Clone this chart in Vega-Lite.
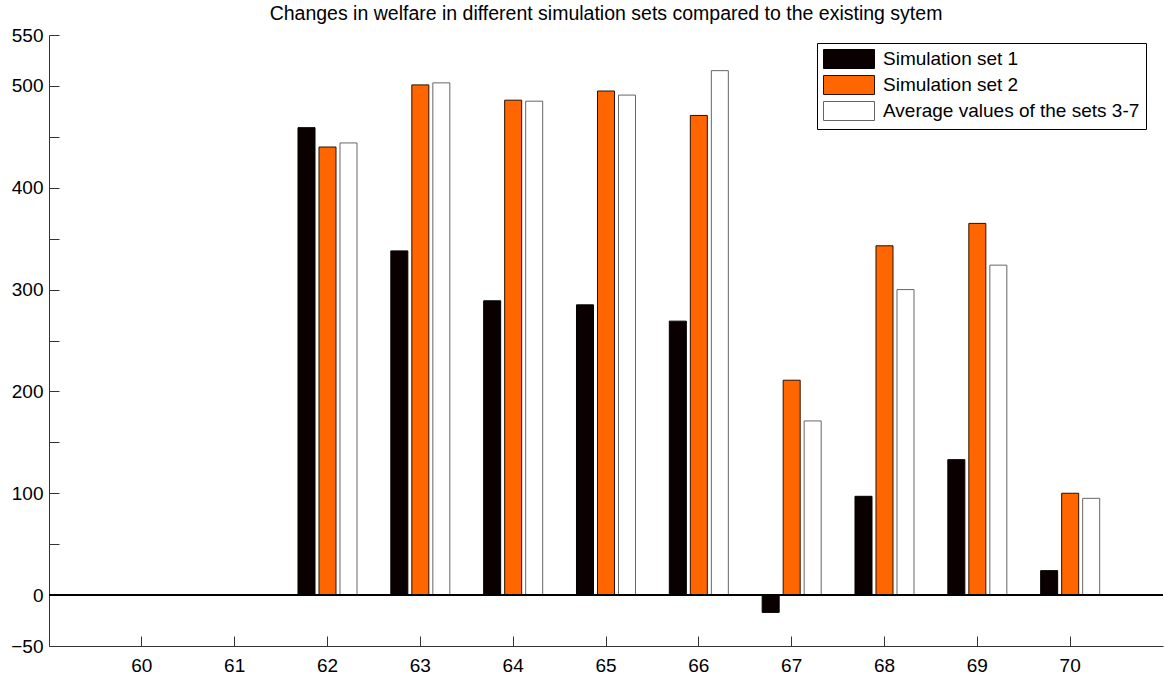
{
  "$schema": "https://vega.github.io/schema/vega-lite/v6.json",
  "width": 1114,
  "height": 611,
  "autosize": "none",
  "padding": {"left": 49, "top": 35, "right": 1, "bottom": 29},
  "background": "white",
  "config": {"view": {"stroke": null}, "font": "Liberation Sans"},
  "title": {"text": "Changes in welfare in different simulation sets compared to the existing sytem", "fontSize": 19.5, "fontWeight": "normal", "font": "Liberation Sans", "color": "black", "offset": 2},
  "data": {"values": [
    {"year": 60, "series": "Simulation set 1", "value": 0},
    {"year": 60, "series": "Simulation set 2", "value": 0},
    {"year": 60, "series": "Average values of the sets 3-7", "value": 0},
    {"year": 61, "series": "Simulation set 1", "value": 0},
    {"year": 61, "series": "Simulation set 2", "value": 0},
    {"year": 61, "series": "Average values of the sets 3-7", "value": 0},
    {"year": 62, "series": "Simulation set 1", "value": 459},
    {"year": 62, "series": "Simulation set 2", "value": 440},
    {"year": 62, "series": "Average values of the sets 3-7", "value": 444},
    {"year": 63, "series": "Simulation set 1", "value": 338},
    {"year": 63, "series": "Simulation set 2", "value": 501},
    {"year": 63, "series": "Average values of the sets 3-7", "value": 503},
    {"year": 64, "series": "Simulation set 1", "value": 289},
    {"year": 64, "series": "Simulation set 2", "value": 486},
    {"year": 64, "series": "Average values of the sets 3-7", "value": 485},
    {"year": 65, "series": "Simulation set 1", "value": 285},
    {"year": 65, "series": "Simulation set 2", "value": 495},
    {"year": 65, "series": "Average values of the sets 3-7", "value": 491},
    {"year": 66, "series": "Simulation set 1", "value": 269},
    {"year": 66, "series": "Simulation set 2", "value": 471},
    {"year": 66, "series": "Average values of the sets 3-7", "value": 515},
    {"year": 67, "series": "Simulation set 1", "value": -17},
    {"year": 67, "series": "Simulation set 2", "value": 211},
    {"year": 67, "series": "Average values of the sets 3-7", "value": 171},
    {"year": 68, "series": "Simulation set 1", "value": 97},
    {"year": 68, "series": "Simulation set 2", "value": 343},
    {"year": 68, "series": "Average values of the sets 3-7", "value": 300},
    {"year": 69, "series": "Simulation set 1", "value": 133},
    {"year": 69, "series": "Simulation set 2", "value": 365},
    {"year": 69, "series": "Average values of the sets 3-7", "value": 324},
    {"year": 70, "series": "Simulation set 1", "value": 24},
    {"year": 70, "series": "Simulation set 2", "value": 100},
    {"year": 70, "series": "Average values of the sets 3-7", "value": 95}
  ]},
  "layer": [
    {
      "mark": {"type": "bar", "strokeWidth": 1},
      "encoding": {
        "x": {"field": "year", "type": "ordinal",
          "scale": {"domain": [60, 61, 62, 63, 64, 65, 66, 67, 68, 69, 70], "paddingInner": 0, "paddingOuter": 0.5},
          "axis": {"title": null, "labelAngle": 0, "tickSize": -10, "labelFontSize": 19, "labelFont": "Liberation Sans", "labelColor": "black", "labelPadding": 20, "domainColor": "#333", "tickColor": "#333", "grid": false}},
        "xOffset": {"field": "series", "type": "nominal",
          "scale": {"domain": ["Simulation set 1", "Simulation set 2", "Average values of the sets 3-7"], "paddingInner": 0.19, "paddingOuter": 0.805}},
        "y": {"field": "value", "type": "quantitative",
          "scale": {"domain": [-50, 550], "nice": false, "zero": false},
          "axis": {"title": null, "values": [-50, 0, 50, 100, 150, 200, 250, 300, 350, 400, 450, 500, 550],
            "labelExpr": "(datum.value % 100 == 50 && datum.value > 0 && datum.value < 550) ? '' : datum.label",
            "tickSize": -10, "labelFontSize": 19, "labelFont": "Liberation Sans", "labelColor": "black", "labelPadding": 16, "domainColor": "#333", "tickColor": "#333", "grid": false}},
        "fill": {"field": "series", "type": "nominal",
          "scale": {"domain": ["Simulation set 1", "Simulation set 2", "Average values of the sets 3-7"], "range": ["#0a0000", "#ff6600", "#ffffff"]},
          "legend": {"orient": "none", "legendX": 768, "legendY": 8, "title": null, "fillColor": "white", "strokeColor": "black", "padding": 6, "rowPadding": 2,
            "symbolType": "M-1,-1H4.37V1H-1Z", "symbolSize": 361, "symbolStrokeColor": "#333", "symbolStrokeWidth": 1, "symbolOpacity": 1,
            "labelFontSize": 19, "labelFont": "Liberation Sans", "labelColor": "black", "labelOffset": 40, "labelLimit": 400}},
        "stroke": {"field": "series", "type": "nominal",
          "scale": {"domain": ["Simulation set 1", "Simulation set 2", "Average values of the sets 3-7"], "range": ["#000000", "#2a1000", "#666666"]},
          "legend": null}
      }
    },
    {
      "mark": {"type": "rule", "color": "black", "strokeWidth": 1},
      "encoding": {"y": {"datum": 0}}
    }
  ]
}
